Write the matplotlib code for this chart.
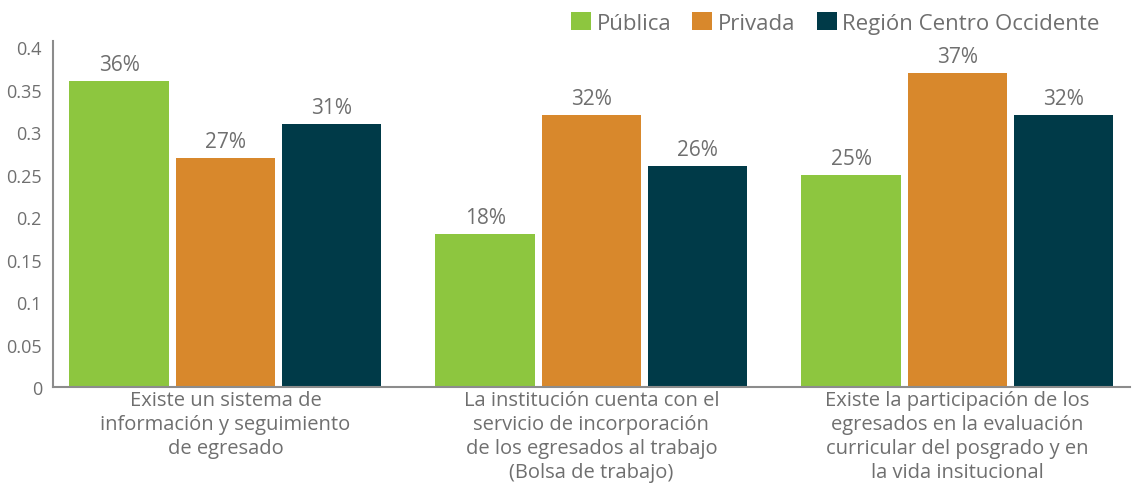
import numpy as np
import matplotlib.pyplot as plt
from matplotlib.patches import Patch

plt.rcParams['font.family'] = ['Open Sans', 'DejaVu Sans']

categories = [
    "Existe un sistema de\ninformación y seguimiento\nde egresado",
    "La institución cuenta con el\nservicio de incorporación\nde los egresados al trabajo\n(Bolsa de trabajo)",
    "Existe la participación de los\negresados en la evaluación\ncurricular del posgrado y en\nla vida insitucional",
]
series_names = ["Pública", "Privada", "Región Centro Occidente"]
publica = [0.36, 0.18, 0.25]
privada = [0.27, 0.32, 0.37]
region = [0.31, 0.26, 0.32]
yticks = [0, 0.05, 0.1, 0.15, 0.2, 0.25, 0.3, 0.35, 0.4]
ytick_labels = ["0", "0.05", "0.1", "0.15", "0.2", "0.25", "0.3", "0.35", "0.4"]

colors = ["#8DC63F", "#D8882C", "#003A48"]
text_gray = "#6f6f6f"

fig = plt.figure(figsize=(11.4, 4.89), dpi=100)
ax = fig.add_axes([0.0465, 0.2065, 0.9445, 0.7075])

x = np.arange(len(categories))
step = 0.29
width = 0.272
for i, (vals, col) in enumerate(zip([publica, privada, region], colors)):
    pos = x + (i - 1) * step
    ax.bar(pos, vals, width=width, color=col)
    for p, v in zip(pos, vals):
        ax.text(p, v + 0.007, f"{round(v * 100)}%", ha="center", va="bottom",
                fontsize=15, color=text_gray)

ax.set_xlim(-0.471, 2.471)
ax.set_ylim(0, 0.407)
ax.set_yticks(yticks)
ax.set_yticklabels(ytick_labels, fontsize=13, color=text_gray)
ax.set_xticks(x)
ax.set_xticklabels(categories, fontsize=14.5, color=text_gray, linespacing=1.28)
ax.tick_params(axis="both", length=0)
ax.tick_params(axis="x", pad=2)
ax.tick_params(axis="y", pad=8)

for s in ["top", "right"]:
    ax.spines[s].set_visible(False)
for s in ["left", "bottom"]:
    ax.spines[s].set_color("#8c8c8c")
    ax.spines[s].set_linewidth(1.5)

handles = [Patch(facecolor=c, label=n) for c, n in zip(colors, series_names)]
fig.legend(handles=handles, loc="upper right", bbox_to_anchor=(0.982, 1.015),
           ncol=3, frameon=False, fontsize=16, labelcolor=text_gray,
           handlelength=0.9, handleheight=0.9, handletextpad=0.25,
           columnspacing=0.95)

fig.savefig("out.png", dpi=100)
